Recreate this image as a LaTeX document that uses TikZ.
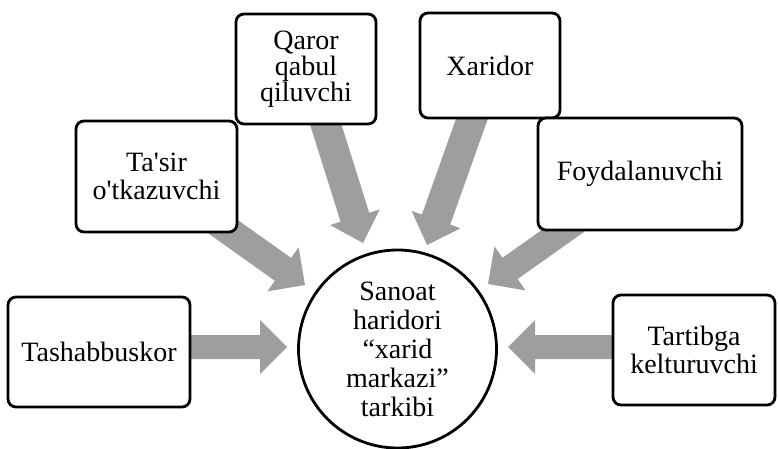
\documentclass[tikz,border=0pt]{standalone}
\usepackage{fontspec}
\newfontfamily\libserif{Liberation Serif}
\usetikzlibrary{calc}
\tikzset{
  boxnode/.style={draw, line width=2.8pt, rounded corners=8pt, fill=white, inner sep=0pt,
    align=center, font=\libserif\fontsize{28}{28}\selectfont},
  circnode/.style={draw, circle, line width=2.8pt, fill=white, inner sep=0pt,
    align=center, font=\libserif\fontsize{28}{29}\selectfont},
  arrowfill/.style={fill=black!38}
}
\newcommand\blockarrow[4]{%
  \coordinate (hb) at ($(#2)!27pt!(#1)$);
  \fill[arrowfill] ($(#1)!#3!90:(#2)$) -- ($(hb)!#3!90:(#2)$) -- ($(hb)!#4!90:(#2)$) -- (#2)
    -- ($(hb)!#4!-90:(#2)$) -- ($(hb)!#3!-90:(#2)$) -- ($(#1)!#3!-90:(#2)$) -- cycle;
}
\begin{document}
\begin{tikzpicture}[x=1pt, y=-1pt]
\useasboundingbox (0,0) rectangle (778,449);
% arrow end points
\coordinate (a1s) at (185,347); \coordinate (a1e) at (287,347);
\coordinate (a2s) at (618,347); \coordinate (a2e) at (508,347);
\coordinate (a3s) at (215,221); \coordinate (a3e) at (305,285);
\coordinate (a4s) at (324,119); \coordinate (a4e) at (363,243);
\coordinate (a5s) at (474,113); \coordinate (a5e) at (427,245);
\coordinate (a6s) at (577,221); \coordinate (a6e) at (488,284);
\blockarrow{a1s}{a1e}{12pt}{27pt}
\blockarrow{a2s}{a2e}{12pt}{27pt}
\blockarrow{a3s}{a3e}{14pt}{27pt}
\blockarrow{a4s}{a4e}{15pt}{26pt}
\blockarrow{a5s}{a5e}{15pt}{26pt}
\blockarrow{a6s}{a6e}{13pt}{27pt}
% boxes
\node[boxnode, minimum width=182pt, minimum height=110pt] (tash) at (99,352) {Tashabbuskor};
\node[boxnode, minimum width=161pt, minimum height=111pt] (tasir) at (156.5,176.5) {Ta'sir\\o'tkazuvchi};
\node[boxnode, minimum width=140pt, minimum height=110pt, font=\libserif\fontsize{28}{26}\selectfont] (qaror) at (306,69) {Qaror\\qabul\\qiluvchi};
\node[boxnode, minimum width=140pt, minimum height=105pt] (xarid) at (490,65.5) {Xaridor};
\node[boxnode, minimum width=204pt, minimum height=112pt] (foyd) at (640,174) {Foydalanuvchi};
\node[boxnode, minimum width=162pt, minimum height=110pt] (tart) at (694,350) {Tartibga\\kelturuvchi};
\node[circnode, minimum size=198pt] (circ) at (397.5,349) {Sanoat\\haridori\\“xarid\\markazi”\\tarkibi};
\end{tikzpicture}
\end{document}
